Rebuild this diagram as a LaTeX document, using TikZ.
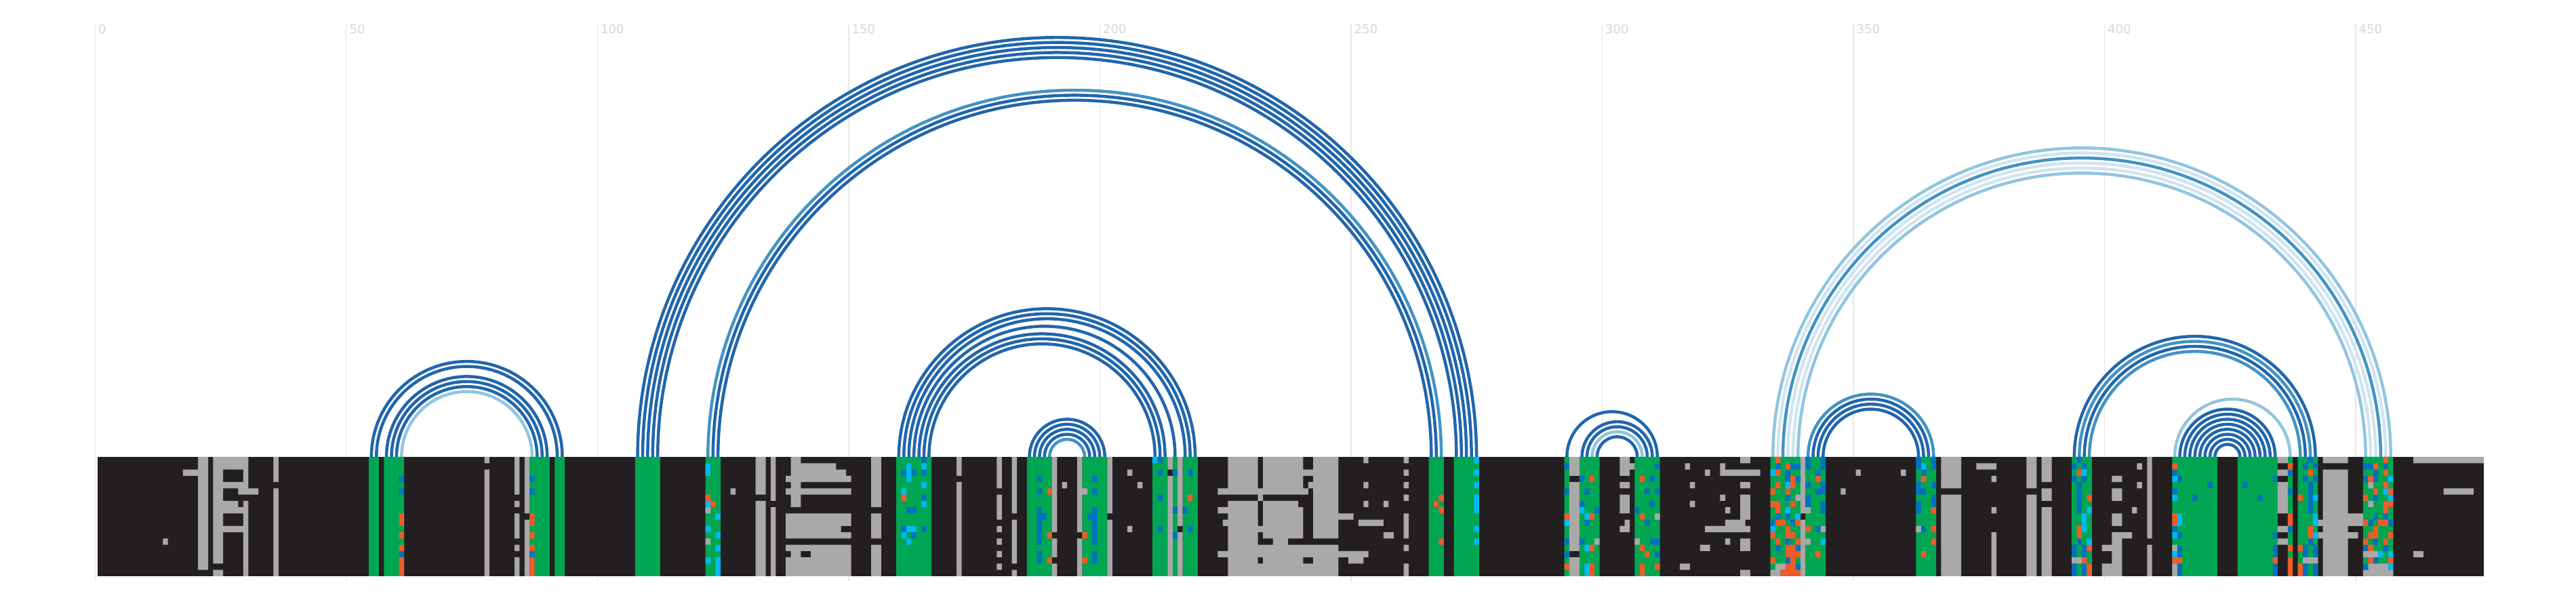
\documentclass[tikz,border=0pt]{standalone}
\usepackage{fontspec}
\setmainfont{DejaVu Sans}
\definecolor{barblack}{HTML}{231F20}
\definecolor{cellgray}{HTML}{A9A9A9}
\definecolor{cellgreen}{HTML}{00A651}
\definecolor{cellblue}{HTML}{0072BC}
\definecolor{cellcyan}{HTML}{00B9F2}
\definecolor{cellorange}{HTML}{F15A29}
\definecolor{tonedark}{HTML}{2166AC}
\definecolor{tonemid}{HTML}{4393C3}
\definecolor{tonelight}{HTML}{92C5DE}
\definecolor{tonepale}{HTML}{D1E5F0}
\definecolor{tickline}{HTML}{E6E6E6}
\definecolor{ticktext}{HTML}{D6D6D6}
\tikzset{
  bp arc/.style={line width=1.12pt},
  tick label/.style={anchor=base west,inner sep=0pt,xshift=1pt,text=ticktext,font=\fontsize{4.5}{5}\selectfont}
}

\begin{document}
\begin{tikzpicture}[x=1.8525pt,y=2.3158pt]
        \useasboundingbox (-19.433,72.76) rectangle (493.39,-23.32);
        \foreach \t in {0,50,...,450} {
          \draw[tickline,line width=0.35pt] (\t-0.5,68.98) -- (\t-0.5,-19.76);
          \node[tick label] (tick\t) at (\t-0.5,67.4) {\t};
        }
        \foreach \i/\j in {334/455,336/453,337/452} {
          \draw[bp arc,tonepale] (\i+0.5,0) arc[start angle=180,end angle=0,radius={(\j-\i)*0.92625pt}];
        }
        \foreach \i/\j in {60/86,297/307,333/456,338/451,413/436} {
          \draw[bp arc,tonelight] (\i+0.5,0) arc[start angle=180,end angle=0,radius={(\j-\i)*0.92625pt}];
        }
        \foreach \i/\j in {121/267,189/196,335/454,340/365,394/440,396/438} {
          \draw[bp arc,tonemid] (\i+0.5,0) arc[start angle=180,end angle=0,radius={(\j-\i)*0.92625pt}];
        }
        \foreach \i/\j in {%
          54/92, 55/91, 57/89, 58/88, 59/87,
          107/274, 108/273, 109/272, 110/271, 111/270,
          122/266, 123/265,
          159/218, 160/217, 161/216, 162/214, 163/212, 164/211, 165/210,
          185/200, 186/199, 187/198, 188/197,
          292/310, 295/309, 296/308, 298/306,
          341/364, 342/363, 343/362,
          393/441, 395/439,
          414/433, 415/432, 416/431, 417/430, 418/429, 419/428, 420/427, 421/426} {
          \draw[bp arc,tonedark] (\i+0.5,0) arc[start angle=180,end angle=0,radius={(\j-\i)*0.92625pt}];
        }
        \fill[barblack] (0,0) rectangle (475,-19);
        \fill[cellgreen] foreach \c/\w in {%
          54/2, 57/4, 86/4, 91/2, 107/5, 121/3, 159/7, 185/5, 196/5,
          210/3, 214/1, 216/3, 265/3, 270/5, 292/1, 295/4, 306/5,
          333/6, 340/4, 362/4, 393/4, 413/9, 426/8, 436/1, 438/4, 451/6} {
            (\c,0) rectangle ++(\w,-19)
          };
        \fill[cellgray] foreach \c/\r/\w/\h in {%
          13/13/1/1, 17/2/3/1, 20/0/2/15, 20/15/2/3,
          23/0/7/2, 23/2/2/15, 23/18/2/1, 29/2/1/2, 25/4/5/1, 28/5/4/1,
          25/7/3/1, 29/7/1/1, 25/8/5/1, 29/9/1/2, 25/11/5/1, 29/12/1/7,
          35/0/1/4, 35/5/1/14, 77/0/1/1, 77/2/1/17,
          83/0/1/6, 83/7/1/1, 83/9/1/4, 83/14/1/1, 83/16/1/3, 85/0/1/9, 85/10/1/9,
          121/8/1/1, 121/13/1/1, 126/5/1/1,
          131/0/2/6, 131/7/2/12, 134/0/1/7, 134/8/1/11, 138/0/2/8,
          138/1/9/1, 138/2/11/1, 137/3/13/1, 137/5/13/1, 137/9/13/2, 137/11/11/1,
          137/12/13/1, 137/14/13/1, 138/15/2/1, 142/15/8/1, 137/16/13/3,
          154/0/2/8, 154/9/2/4, 154/14/2/5,
          171/0/1/3, 171/4/1/15,
          179/0/1/5, 179/6/1/4, 179/11/1/1, 179/13/1/1, 179/15/1/1, 179/17/1/1,
          182/0/1/9, 182/10/1/7, 182/18/1/1,
          190/0/1/12, 190/13/1/3, 190/17/1/2, 192/4/1/1,
          195/0/1/12, 195/13/1/6, 196/5/1/1,
          201/0/1/9, 201/10/1/9, 205/2/1/1, 205/11/1/1, 207/4/1/1,
          213/0/1/2, 213/3/1/16, 215/0/1/11, 215/12/1/7,
          225/0/6/5, 223/5/18/1, 231/6/1/1, 225/7/6/1, 223/8/8/1, 225/9/6/1,
          224/10/7/1, 225/11/15/1, 225/12/6/1, 225/13/6/1, 225/14/22/1,
          223/15/30/1, 225/16/6/1, 225/17/22/2,
          232/0/8/5, 232/2/15/1, 241/4/1/1, 232/7/7/1, 232/8/8/3, 232/12/8/1,
          234/13/3/1, 232/16/8/1, 242/0/5/13, 242/16/5/1, 247/9/3/1, 249/16/3/1,
          252/0/1/1, 252/4/1/1, 252/7/1/1, 256/7/1/1, 251/10/5/1, 256/12/2/1,
          260/0/1/1, 260/2/1/1, 260/4/1/1, 260/6/1/1, 260/9/1/4, 260/14/1/1, 260/17/1/2,
          293/0/2/3, 293/4/2/11, 293/16/2/3, 298/13/1/1,
          303/0/2/3, 305/1/1/1, 303/4/2/1, 303/6/2/3, 304/10/1/1, 303/11/2/1,
          306/13/1/1, 310/9/1/1, 316/1/1/1, 315/17/2/1, 317/4/1/1, 317/7/1/1,
          327/0/2/1, 327/4/2/1, 327/6/2/4, 327/13/2/2, 327/18/2/1,
          323/1/1/1, 323/2/8/1, 320/2/1/1, 323/6/1/1, 324/8/1/1, 324/10/4/1,
          320/11/9/1, 324/13/1/1, 319/14/2/1,
          338/6/1/1, 339/0/1/9, 339/10/1/9, 340/8/1/1, 340/13/1/1, 343/11/1/1,
          334/17/2/1, 333/18/2/1, 347/5/1/1, 350/2/1/1, 359/2/1/1, 362/11/1/1,
          367/0/4/5, 367/6/4/13, 374/1/4/1, 377/3/1/1, 377/8/1/1, 377/12/1/7,
          384/0/2/5, 384/6/2/13, 387/0/2/4, 387/5/2/2, 387/8/2/11, 393/16/2/1,
          406/1/1/1, 406/4/1/1, 405/8/1/1,
          401/3/2/1, 401/5/2/2, 401/9/2/2, 401/12/4/1, 401/13/2/6, 399/14/2/1, 399/17/2/2,
          408/0/1/13, 408/14/1/5, 413/14/1/1, 413/17/1/2,
          434/0/2/1, 434/2/2/1, 434/4/2/5, 434/11/2/1, 434/13/2/1, 439/16/3/1,
          443/0/5/1, 443/2/5/17, 448/9/3/1, 442/10/1/1, 448/10/3/1, 442/12/1/1, 448/12/2/1,
          452/4/1/1, 452/7/1/1, 451/15/3/1, 452/17/4/1, 451/18/6/1,
          461/0/14/1, 467/5/6/1, 461/15/2/1} {
            (\c,-\r) rectangle ++(\w,-\h)
          };
        \fill[cellblue] foreach \c/\r/\h in {%
          60/3/1, 60/5/1, 60/15/1, 86/3/1, 86/5/1, 86/15/1,
          160/2/1, 162/2/1, 160/11/1, 162/12/1, 161/8/1, 162/8/1,
          164/0/1, 164/2/1, 164/6/1, 164/11/1,
          187/3/1, 187/5/1, 187/8/4, 187/12/2, 187/15/2, 188/9/1,
          198/3/1, 198/5/1, 198/8/4, 198/12/2, 198/15/2, 197/9/1,
          211/0/1, 211/2/1, 211/6/1, 211/11/1, 214/2/1, 214/8/1, 214/12/1,
          216/8/1, 217/2/1, 217/11/1,
          292/1/1, 292/5/1, 292/13/1, 292/15/1, 295/3/1, 295/7/1, 295/13/1,
          296/5/1, 296/10/1, 298/8/1, 306/8/1, 308/5/1, 308/10/1,
          309/3/1, 309/7/1, 309/13/1, 310/1/1, 310/5/1, 310/13/1, 310/15/1,
          334/1/1, 337/1/1, 338/1/1, 336/2/2, 338/3/1, 336/6/1, 334/9/1, 336/9/1,
          333/10/1, 337/10/1, 336/13/1, 334/14/1, 338/14/1, 336/16/1, 338/17/1,
          340/0/2, 340/4/1, 340/6/2, 342/2/1, 342/5/1, 343/0/2, 343/4/2, 343/7/2, 342/11/1,
          362/0/2, 363/2/1, 362/4/2, 363/5/1, 365/0/2, 365/4/1, 365/6/2, 362/7/2, 363/11/1,
          393/1/1, 393/3/1, 395/1/1, 395/3/1, 394/0/1, 394/4/5, 394/13/1,
          393/14/2, 395/14/2, 393/17/2, 395/17/2,
          413/2/1, 413/5/1, 413/11/1, 414/3/1, 414/12/1, 414/14/2, 414/17/2,
          417/6/1, 420/4/1, 427/4/1, 430/6/1, 433/3/1, 433/12/1, 433/14/2, 433/17/2,
          436/2/1, 436/5/1, 436/11/1,
          439/1/1, 439/3/1, 439/14/2, 439/17/2, 440/0/1, 440/4/5, 440/13/1,
          441/1/1, 441/3/1, 441/14/2, 441/17/2,
          451/1/1, 452/1/1, 455/1/1, 453/2/1, 451/3/1, 453/3/1, 453/6/1, 453/9/1,
          455/9/1, 452/10/1, 456/10/1, 453/13/1, 451/14/1, 455/14/1, 453/16/1, 451/17/1} {
            (\c,-\r) rectangle ++(1,-\h)
          };
        \fill[cellcyan] foreach \c/\r/\h in {%
          121/1/2, 121/7/1, 121/11/1, 121/16/1, 123/9/1, 123/12/1, 123/14/1, 123/16/3,
          161/1/3, 161/11/1, 162/11/1, 160/5/1, 160/12/1, 161/13/1, 164/1/1, 164/4/1, 164/7/1,
          210/0/1, 274/0/1, 274/2/1, 274/4/1, 274/6/3, 274/11/1, 274/13/1,
          292/10/1, 295/8/1, 296/9/1, 296/14/1, 296/17/2,
          333/2/1, 336/4/1, 336/8/1, 338/9/1, 333/11/1, 343/13/1, 363/1/1,
          395/2/1, 396/8/1, 395/9/3, 396/13/1,
          413/3/1, 413/6/1, 413/12/1, 413/15/1, 414/9/2,
          441/6/1, 441/9/2, 441/12/1,
          456/3/1, 455/5/1, 456/6/1, 454/15/1, 456/15/1, 456/17/1} {
            (\c,-\r) rectangle ++(1,-\h)
          };
        \fill[cellorange] foreach \c/\r/\h in {%
          60/9/2, 60/12/1, 60/14/1, 60/16/3, 86/9/2, 86/12/1, 86/14/1, 86/16/3,
          121/6/1, 122/7/1, 160/6/1, 189/5/1, 189/12/1, 189/16/1, 196/12/1, 196/16/1,
          217/6/1, 267/6/1, 267/8/1, 267/13/1, 266/7/1,
          292/9/1, 292/17/1, 297/3/1, 297/9/1, 297/14/1, 297/17/2,
          307/3/1, 307/9/1, 307/14/1, 307/17/2, 308/15/1, 310/17/1,
          334/0/1, 336/1/1, 334/2/1, 337/3/1, 334/4/1, 337/4/1, 333/5/1, 336/5/1,
          333/7/1, 334/7/2, 337/7/1, 334/10/1, 335/10/1, 338/10/1, 336/11/2,
          333/12/1, 337/12/1, 334/13/1, 338/13/1, 336/14/2, 337/14/5, 338/15/1,
          333/16/1, 336/17/2, 335/18/1, 338/18/1,
          342/3/1, 340/11/1, 342/15/1, 363/3/1, 365/8/1, 365/11/1, 365/13/1, 363/15/1,
          394/2/1, 394/11/2, 396/6/1, 396/14/1, 395/16/1, 396/17/2,
          413/1/1, 413/9/2, 413/16/1, 414/16/1, 433/16/1,
          436/1/1, 436/9/2, 436/14/1, 436/16/3,
          438/6/1, 438/14/1, 438/17/2, 440/2/1, 440/11/2,
          455/0/1, 453/1/1, 455/2/1, 452/3/1, 455/4/1, 453/5/1, 456/5/1, 451/6/1,
          455/7/1, 456/7/1, 455/8/1, 451/10/1, 454/10/1, 455/10/1, 453/11/1,
          452/12/1, 453/12/1, 456/12/1, 451/13/1, 455/13/1, 452/14/1, 452/16/1, 456/16/1} {
            (\c,-\r) rectangle ++(1,-\h)
          };
      \end{tikzpicture}
\end{document}
